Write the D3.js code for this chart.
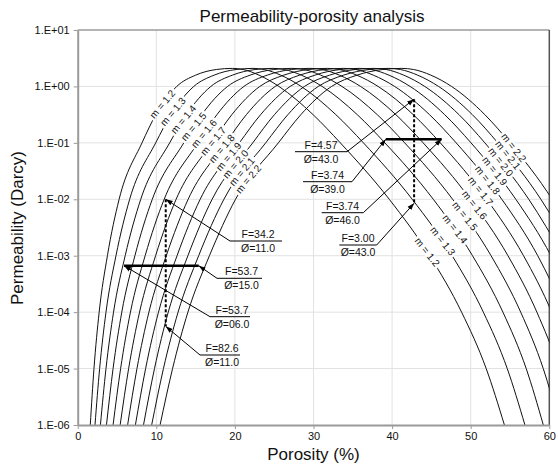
<!DOCTYPE html>
<html><head><meta charset="utf-8">
<script src="https://cdn.jsdelivr.net/npm/d3@7"></script>
<style>
body{margin:0;background:#fff}
svg{display:block;font-family:"Liberation Sans",Arial,sans-serif}
</style>
</head><body>
<svg id="c" width="558" height="467"></svg>
<script>
// ---------------- data ----------------
const mValues = [1.2, 1.3, 1.4, 1.5, 1.6, 1.7, 1.8, 1.9, 2.0, 2.1, 2.2];
// permeability (Darcy) at which the porosity of each curve was read: left branch up to the peak, then right branch
const permLevels = [1e-6, 1e-5, 1e-4, 1e-3, 1e-2, 0.1, 0.316, 1, 1.585, 1.995, 2.089,
                    1.995, 1.585, 1, 0.316, 0.1, 1e-2, 1e-3, 1e-4, 1e-5, 1e-6];
const phi_m12 = [1.60,2.07,2.73,3.78,5.27,8.18,9.94,12.60,15.01,17.63,19.69,21.05,23.07,25.60,29.95,33.41,39.64,44.78,48.84,51.97,54.29];
const phi_m13 = [2.20,2.79,3.60,4.87,6.61,9.92,11.87,14.77,17.36,20.14,22.31,23.73,25.83,28.43,32.85,36.35,42.56,47.64,51.61,54.65,56.90];
const phi_m14 = [2.89,3.60,4.56,6.04,8.02,11.70,13.83,16.94,19.68,22.58,24.84,26.30,28.45,31.10,35.57,39.08,45.24,50.23,54.10,57.06,59.24];
const phi_m15 = [3.66,4.50,5.61,7.28,9.49,13.50,15.78,19.07,21.93,24.94,27.25,28.75,30.93,33.62,38.11,41.60,47.70,52.59,56.36,59.23,61.34];
const phi_m16 = [4.50,5.46,6.71,8.58,11.00,15.30,17.71,21.15,24.11,27.20,29.56,31.08,33.29,35.99,40.48,43.95,49.95,54.74,58.42,61.21,63.25];
const phi_m17 = [5.40,6.48,7.87,9.91,12.52,17.08,19.61,23.17,26.22,29.37,31.76,33.29,35.51,38.22,42.69,46.13,52.04,56.72,60.30,63.00,64.97];
const phi_m18 = [6.35,7.54,9.06,11.27,14.05,18.85,21.46,25.13,28.24,31.44,33.85,35.38,37.61,40.32,44.76,48.15,53.96,58.53,62.02];
const phi_m19 = [7.34,8.64,10.28,12.64,15.58,20.57,23.27,27.03,30.18,33.41,35.83,37.37,39.60,42.29,46.69,50.04,55.74,60.21,63.60];
const phi_m20 = [8.37,9.77,11.52,14.02,17.10,22.27,25.03,28.85,32.05,35.29,37.72,39.26,41.48,44.15,48.51,51.80,57.39,61.76];
const phi_m21 = [9.41,10.91,12.77,15.39,18.60,23.92,26.74,30.61,33.83,37.09,39.51,41.05,43.25,45.91,50.21,53.45,58.93,63.19];
const phi_m22 = [10.48,12.07,14.02,16.76,20.08,25.53,28.39,32.30,35.54,38.80,41.22,42.74,44.93,47.56,51.80,54.99,60.36,64.52];
const curvePhis = [phi_m12, phi_m13, phi_m14, phi_m15, phi_m16, phi_m17, phi_m18, phi_m19, phi_m20, phi_m21, phi_m22];

const xTicks = [0, 10, 20, 30, 40, 50, 60];
const yTicks = [1e1, 1e0, 1e-1, 1e-2, 1e-3, 1e-4, 1e-5, 1e-6];
const yTickLabels = ["1.E+01","1.E+00","1.E-01","1.E-02","1.E-03","1.E-04","1.E-05","1.E-06"];

// annotations
const calloutF   = ["34.2","53.7","53.7","82.6","4.57","3.74","3.74","3.00"];
const calloutPhi = ["11.0","15.0","06.0","11.0","43.0","39.0","46.0","43.0"];
const calloutTargetPhi = [11.2, 15.4, 5.9, 11.2, 42.8, 39.2, 46.3, 42.8];
const calloutTargetK   = [1e-2, 6.65e-4, 6.65e-4, 5.6e-5, 0.595, 0.116, 0.116, 0.0085];
const dashedPhi = [11.2, 42.8];
const dashedK = [[1e-2, 5.6e-5], [0.595, 0.0085]];
const solidK = [6.65e-4, 0.116];
const solidPhi = [[5.9, 15.4], [39.2, 46.3]];

// ---------------- layout ----------------
const L = {left:77.7, right:549.3, top:30, bottom:425};
const calloutLayout = [
  {u:[230,282], uy:241,   side:"left"},
  {u:[217,262], uy:278.3, side:"left"},
  {u:[210,250], uy:316.7, side:"left"},
  {u:[200,240], uy:355,   side:"left"},
  {u:[295,347], uy:151.7, side:"right"},
  {u:[303,352], uy:181.7, side:"right"},
  {u:[321.7,363.3], uy:212.7, side:"right"},
  {u:[339.3,376.7], uy:245, side:"right"}
];
const leftLabelY  = [104,111.7,119.3,126.7,133.5,141,148.5,156.5,164,171.5,179];
const rightLabelY = [252,241,229,216,205,191,180,171,162,155,147.5];

const svg = d3.select("#c");
const x = d3.scaleLinear().domain([0,60]).range([L.left, L.right]);
const y = d3.scaleLog().domain([1e-6,10]).range([L.bottom, L.top]);

const defs = svg.append("defs");
defs.append("clipPath").attr("id","plotclip").append("rect")
  .attr("x",L.left).attr("y",L.top).attr("width",L.right-L.left).attr("height",L.bottom-L.top);
defs.append("marker").attr("id","ah").attr("viewBox","0 0 10 10")
  .attr("refX",10).attr("refY",5).attr("markerWidth",7).attr("markerHeight",7)
  .attr("markerUnits","userSpaceOnUse").attr("orient","auto")
  .append("path").attr("d","M0,1.5L10,5L0,8.5z").attr("fill","#000");

// gridlines
const grid = svg.append("g").attr("stroke","#e2e2e2").attr("stroke-width",1);
grid.selectAll("line.gx").data(xTicks.slice(1,-1)).join("line")
  .attr("x1",d=>x(d)).attr("x2",d=>x(d)).attr("y1",L.top).attr("y2",L.bottom);
grid.selectAll("line.gy").data(yTicks.slice(1,-1)).join("line")
  .attr("y1",d=>y(d)).attr("y2",d=>y(d)).attr("x1",L.left).attr("x2",L.right);

// top & right border
svg.append("line").attr("x1",L.left).attr("x2",L.right).attr("y1",L.top).attr("y2",L.top)
  .attr("stroke","#6a6a6a").attr("stroke-width",1);
svg.append("line").attr("x1",L.right).attr("x2",L.right).attr("y1",L.top).attr("y2",L.bottom)
  .attr("stroke","#555").attr("stroke-width",1.5);

// curves
const plot = svg.append("g").attr("clip-path","url(#plotclip)");
const line = d3.line().x(d=>x(d[0])).y(d=>y(d[1])).curve(d3.curveMonotoneX);
const paths = [];
curvePhis.forEach((arr,i)=>{
  const pts = arr.map((p,j)=>[p, permLevels[j]]);
  const p = plot.append("path").datum(pts).attr("d",line)
    .attr("fill","none").attr("stroke","#111").attr("stroke-width",1);
  paths.push(p.node());
});

// axes
const ax = svg.append("g").attr("transform",`translate(0,${L.bottom})`)
  .call(d3.axisBottom(x).tickValues(xTicks).tickSizeInner(4).tickSizeOuter(0).tickPadding(3).tickFormat(d3.format("d")));
const ay = svg.append("g").attr("transform",`translate(${L.left},0)`)
  .call(d3.axisLeft(y).tickValues(yTicks).tickSizeInner(4).tickSizeOuter(0).tickPadding(4).tickFormat((d,i)=>yTickLabels[i]));
[ax,ay].forEach(a=>{
  a.select(".domain").attr("stroke","#9a9a9a").attr("stroke-width",2);
  a.selectAll(".tick line").attr("stroke","#9a9a9a").attr("stroke-width",1);
  a.selectAll(".tick text").attr("font-size",11).attr("fill","#111")
   .attr("font-family",'"Liberation Sans",Arial,sans-serif');
});

// curve labels
function pointAtY(node, ty, side){
  const total = node.getTotalLength();
  let prev = node.getPointAtLength(0), found = null;
  for(let s=0.5; s<=total; s+=0.5){
    const p = node.getPointAtLength(s);
    if((prev.y-ty)*(p.y-ty) <= 0 && prev.y!==p.y){
      const t = (ty-prev.y)/(p.y-prev.y);
      const q = {x: prev.x + t*(p.x-prev.x), y: ty};
      if(side==="left"){ return q; }
      found = q;
    }
    prev = p;
  }
  return found;
}
const labG = svg.append("g");
mValues.forEach((m,i)=>{
  [["left",leftLabelY[i],-50],["right",rightLabelY[i],52]].forEach(([side,ty,ang])=>{
    const q = pointAtY(paths[i], ty, side);
    if(!q) return;
    const g = labG.append("g").attr("transform",`translate(${q.x},${q.y}) rotate(${ang})`);
    const r = g.append("rect").attr("fill","#fff");
    const t = g.append("text").text("m = " + m.toFixed(1)).attr("font-size",10)
      .attr("text-anchor","middle").attr("dy","0.35em").attr("fill","#111");
    const w = t.node().getComputedTextLength();
    r.attr("x",-w/2-2).attr("y",-4).attr("width",w+4).attr("height",8);
  });
});

// dashed & solid marker lines
dashedPhi.forEach((p,i)=>{
  svg.append("line").attr("x1",x(p)).attr("x2",x(p)).attr("y1",y(dashedK[i][0])).attr("y2",y(dashedK[i][1]))
    .attr("stroke","#000").attr("stroke-width",2).attr("stroke-dasharray","3,2");
});
solidK.forEach((k,i)=>{
  svg.append("line").attr("x1",x(solidPhi[i][0])).attr("x2",x(solidPhi[i][1])).attr("y1",y(k)).attr("y2",y(k))
    .attr("stroke","#000").attr("stroke-width",2.5);
});

// callouts
const cg = svg.append("g");
calloutLayout.forEach((c,i)=>{
  const tip = [x(calloutTargetPhi[i]), y(calloutTargetK[i])];
  const a = c.side==="left" ? [[c.u[1],c.uy],[c.u[0],c.uy],tip] : [[c.u[0],c.uy],[c.u[1],c.uy],tip];
  cg.append("path").attr("d", d3.line()(a)).attr("fill","none").attr("stroke","#000")
    .attr("stroke-width",1).attr("marker-end","url(#ah)");
  const cx = (c.u[0]+c.u[1])/2 + (c.side==="left"?2:0);
  cg.append("text").attr("x",cx).attr("y",c.uy-3).attr("text-anchor","middle")
    .attr("font-size",10.5).attr("fill","#111").text("F=" + calloutF[i]);
  cg.append("text").attr("x",cx).attr("y",c.uy+11).attr("text-anchor","middle")
    .attr("font-size",10.5).attr("fill","#111").text("Ø=" + calloutPhi[i]);
});

// titles
svg.append("text").attr("x",312).attr("y",22).attr("text-anchor","middle")
  .attr("font-size",17).attr("fill","#111").text("Permeability-porosity analysis");
svg.append("text").attr("x",313.5).attr("y",459.5).attr("text-anchor","middle")
  .attr("font-size",17).attr("fill","#111").text("Porosity (%)");
svg.append("text").attr("transform","translate(23,228) rotate(-90)").attr("text-anchor","middle")
  .attr("font-size",17).attr("fill","#111").text("Permeability (Darcy)");
</script>
</body></html>
